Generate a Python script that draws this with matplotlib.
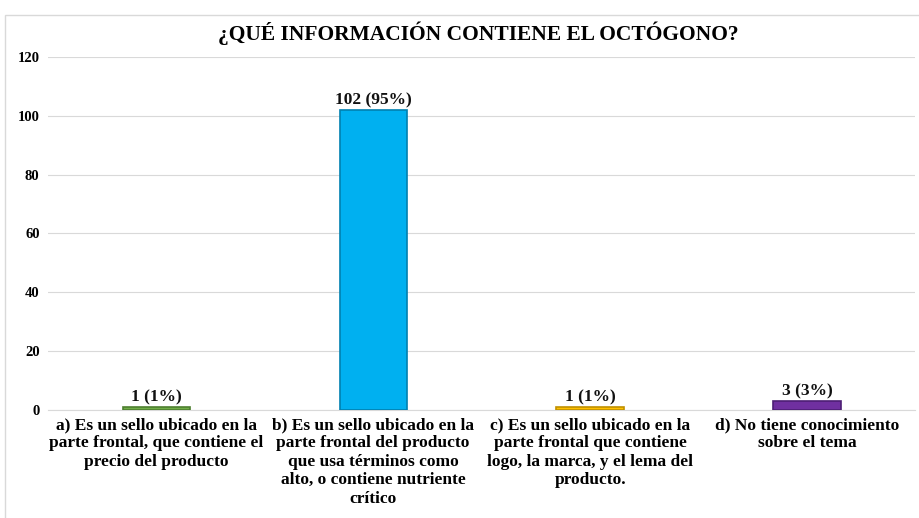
import matplotlib
matplotlib.use('Agg')
import matplotlib.pyplot as plt
from matplotlib.patches import Rectangle

# ── DATA ──────────────────────────────────────────────────────────────
categories = [
    "a) Es un sello ubicado en la\nparte frontal, que contiene el\nprecio del producto",
    "b) Es un sello ubicado en la\nparte frontal del producto\nque usa términos como\nalto, o contiene nutriente\ncrítico",
    "c) Es un sello ubicado en la\nparte frontal que contiene\nlogo, la marca, y el lema del\nproducto.",
    "d) No tiene conocimiento\nsobre el tema",
]
counts   = [1, 102, 1, 3]
percents = [1, 95, 1, 3]
colors   = ['#70AD47', '#00B0F0', '#FFC000', '#7030A0']
edges    = ['#4E7F30', '#0080B0', '#C09000', '#4E1F75']

plt.rcParams['font.family'] = ['Liberation Serif', 'DejaVu Serif']
plt.rcParams['font.weight'] = 'bold'

fig = plt.figure(figsize=(9.2, 5.18), dpi=100)
ax = fig.add_axes([0.052, 0.2085, 0.943, 0.6815])

x = range(len(categories))
bars = ax.bar(x, counts, width=0.31, color=colors, edgecolor=edges,
              linewidth=1.2, zorder=3)

for bar, c, p in zip(bars, counts, percents):
    ax.text(bar.get_x() + bar.get_width() / 2, bar.get_height() + 0.6,
            f"{c} ({p}%)", ha='center', va='bottom',
            fontsize=12.5, fontweight='bold', color='#111111')

ax.set_xlim(-0.5, 3.5)
ax.set_ylim(0, 120)
ax.set_yticks(range(0, 121, 20))
ax.set_xticks(list(x))
ax.set_xticklabels(categories, fontsize=12.5, fontweight='bold',
                   linespacing=1.2, va='top')
ax.tick_params(axis='x', length=0, pad=5)
ax.tick_params(axis='y', length=0, labelsize=10.5, pad=6)
ax.grid(axis='y', color='#D9D9D9', linewidth=0.8, zorder=0)
for s in ['top', 'right', 'left']:
    ax.spines[s].set_visible(False)
ax.spines['bottom'].set_color('#D9D9D9')

fig.text(0.52, 0.936, "¿QUÉ INFORMACIÓN CONTIENE EL OCTÓGONO?",
         ha='center', va='center', fontsize=15.5, fontweight='bold')

# chart frame
fig.patches.append(Rectangle((5 / 920, -0.01), 1.0, 1 - 15 / 518 + 0.01,
                             transform=fig.transFigure, fill=False,
                             edgecolor='#D9D9D9', linewidth=1))

fig.savefig('out.png', dpi=100)
